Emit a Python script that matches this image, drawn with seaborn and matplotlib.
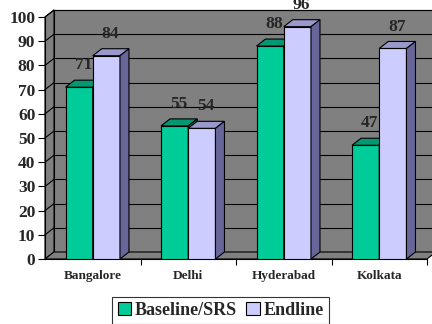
import matplotlib
matplotlib.use("Agg")
import matplotlib.pyplot as plt
import matplotlib.transforms as mtransforms
from matplotlib.patches import Polygon, Rectangle
import seaborn as sns
import pandas as pd

cities = ["Bangalore", "Delhi", "Hyderabad", "Kolkata"]
baseline = [71, 55, 88, 47]
endline = [84, 54, 96, 87]
series_names = ["Baseline/SRS", "Endline"]

front_colors = ["#00CC99", "#CCCCFF"]
top_colors = ["#009973", "#9999CC"]
side_colors = ["#006B50", "#666699"]
WALL = "#808080"
DX, DY = 9, 7  # depth of the fake 3d, in pixels

df = pd.DataFrame({
    "city": cities * 2,
    "value": baseline + endline,
    "series": [series_names[0]] * len(cities) + [series_names[1]] * len(cities),
})

sns.set_theme(style="white")
plt.rcParams["font.family"] = ["Liberation Serif", "DejaVu Serif"]
plt.rcParams["font.weight"] = "bold"

fig = plt.figure(figsize=(4.32, 3.24), dpi=100)
ax = fig.add_axes([45 / 432, 65 / 324, 382 / 432, 242 / 324])
sns.barplot(data=df, x="city", y="value", hue="series", palette=front_colors,
            saturation=1, width=0.57, edgecolor="black", linewidth=0.8,
            ax=ax, legend=False)
bars = list(ax.patches)
ax.set_xlim(-0.5, 3.5)
ax.set_ylim(0, 100)
ax.patch.set_alpha(0)

back = mtransforms.offset_copy(ax.transData, fig=fig, x=DX, y=DY, units="dots")
ident = mtransforms.IdentityTransform()

def disp(x, y, off=False):
    px, py = ax.transData.transform((x, y))
    if off:
        return (px + DX, py + DY)
    return (px, py)

# back wall + gridlines
ax.add_patch(Rectangle((-0.5, 0), 4, 100, transform=back, fc=WALL, ec="black",
                       lw=0.8, zorder=0, clip_on=False))
for v in range(10, 101, 10):
    ax.plot([-0.5, 3.5], [v, v], transform=back, color="black", lw=0.8,
            zorder=0.5, clip_on=False)

# left wall and floor
left = [disp(-0.5, 0), disp(-0.5, 100), disp(-0.5, 100, True), disp(-0.5, 0, True)]
ax.add_patch(Polygon(left, closed=True, transform=ident, fc=WALL, ec="black",
                     lw=0.8, zorder=0.6, clip_on=False))
floor = [disp(-0.5, 0), disp(3.5, 0), disp(3.5, 0, True), disp(-0.5, 0, True)]
ax.add_patch(Polygon(floor, closed=True, transform=ident, fc=WALL, ec="black",
                     lw=0.8, zorder=0.6, clip_on=False))
for v in range(10, 101, 10):
    a, b = disp(-0.5, v), disp(-0.5, v, True)
    ax.plot([a[0], b[0]], [a[1], b[1]], transform=ident, color="black",
            lw=0.8, zorder=0.7, clip_on=False)

# bar tops and sides
n = len(cities)
for i, bar in enumerate(bars):
    h_idx = i // n
    x0, x1 = bar.get_x(), bar.get_x() + bar.get_width()
    h = bar.get_height()
    z = 3 + h_idx * 0.1
    bar.set_zorder(z)
    top = [disp(x0, h), disp(x1, h), disp(x1, h, True), disp(x0, h, True)]
    side = [disp(x1, 0), disp(x1, h), disp(x1, h, True), disp(x1, 0, True)]
    ax.add_patch(Polygon(top, closed=True, transform=ident, fc=top_colors[h_idx],
                         ec="black", lw=0.8, zorder=z + 0.01, clip_on=False))
    ax.add_patch(Polygon(side, closed=True, transform=ident, fc=side_colors[h_idx],
                         ec="black", lw=0.8, zorder=z + 0.01, clip_on=False))
    ax.annotate(f"{h:.0f}", (bar.get_x() + bar.get_width() / 2, h),
                xytext=(3, 10), textcoords="offset points", ha="center",
                va="bottom", fontsize=12.5, fontweight="bold", zorder=5,
                annotation_clip=False)

# axes
for s in ["top", "right"]:
    ax.spines[s].set_visible(False)
for s in ["left", "bottom"]:
    ax.spines[s].set_color("black")
    ax.spines[s].set_linewidth(0.8)
    ax.spines[s].set_zorder(0.8)
ax.set_yticks(range(0, 101, 10))
ax.tick_params(axis="y", direction="out", length=5, width=0.8, color="black",
               labelsize=12.5, pad=2, left=True)
ax.set_xticks(range(n))
ax.set_xticklabels(cities)
ax.set_xticks([0.5, 1.5, 2.5, 3.5], minor=True)
ax.tick_params(axis="x", which="major", length=0, labelsize=9.5, pad=8)
ax.tick_params(axis="x", which="minor", direction="out", length=4, width=0.8,
               color="black", bottom=True)
for lab in ax.get_xticklabels() + ax.get_yticklabels():
    lab.set_fontweight("bold")
ax.set_xlabel("")
ax.set_ylabel("")

handles = [Rectangle((0, 0), 1, 1, fc=c, ec="black", lw=0.8) for c in front_colors]
leg = ax.legend(handles, series_names, loc="upper center", bbox_to_anchor=(0.46, -0.155),
                ncol=2, frameon=True, fancybox=False, edgecolor="black",
                prop={"size": 13, "weight": "bold"}, handlelength=0.75,
                handleheight=0.75, handletextpad=0.2, columnspacing=0.5,
                borderpad=0.3, borderaxespad=0)
leg.get_frame().set_linewidth(0.8)

fig.savefig("out.png", dpi=100)
